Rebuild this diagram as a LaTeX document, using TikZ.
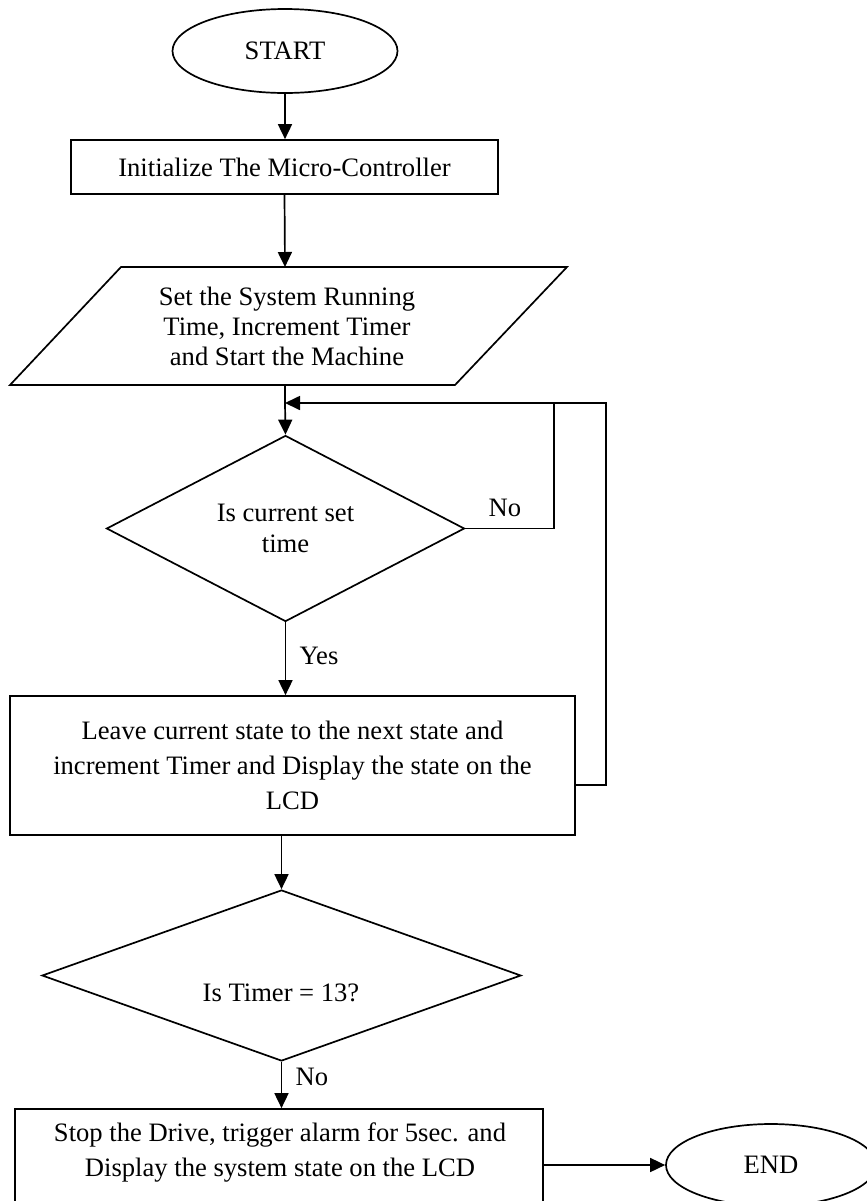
\documentclass[tikz,border=0pt]{standalone}
\usepackage{fontspec}
\setmainfont{Liberation Serif}
\usetikzlibrary{arrows.meta,shapes.geometric}
\begin{document}
\begin{tikzpicture}[x=0.5pt,y=-0.5pt,
  every node/.style={font=\fontsize{13.3}{17.5}\selectfont, inner sep=0pt},
  shapeline/.style={draw=black, line width=0.85pt},
  boxnode/.style={shapeline, rectangle, align=center},
  ovalnode/.style={shapeline, ellipse},
  decnode/.style={shapeline, diamond, align=center},
  txtnode/.style={align=center},
  arr/.style={line width=0.85pt, -{Triangle[length=7.5pt,width=7pt]}},
  ln/.style={line width=0.85pt}]
\useasboundingbox (0,0) rectangle (867,1201);

% START
\node[ovalnode, minimum width=112.5pt, minimum height=42pt] (start) at (285,51) {START};
% Initialize
\node[boxnode, minimum width=213.5pt, minimum height=27pt] (init) at (284.5,167) {Initialize The Micro-Controller};
% Input parallelogram
\coordinate (pTL) at (121,267);
\coordinate (pTR) at (567,267);
\coordinate (pBR) at (455,385);
\coordinate (pBL) at (10,385);
\draw[ln] (pTL) -- (pTR) -- (pBR) -- (pBL) -- cycle;
\node[txtnode, font=\fontsize{13.3}{15}\selectfont] (input) at (287,326) {Set the System Running\\Time, Increment Timer\\and Start the Machine};
\coordinate (inTop) at (285,267);
\coordinate (inBot) at (285,385);
\coordinate (join) at (285,403);
% Decision 1
\node[decnode, minimum width=179pt, minimum height=87.5pt, font=\fontsize{13.3}{15.5}\selectfont] (dec1) at (285.5,528.5) {Is current set\\time};
% Process
\node[boxnode, minimum width=282.5pt, minimum height=69.5pt] (proc) at (292.5,765.5) {Leave current state to the next state and\\increment Timer and Display the state on the\\LCD};
% Decision 2
\node[shapeline, diamond, minimum width=239.5pt, minimum height=85.5pt] (dec2) at (281.5,975.5) {};
\node[txtnode] (dec2t) at (281,993) {Is Timer = 13?};
% Stop
\node[boxnode, minimum width=264pt, minimum height=51.5pt] (stop) at (279,1160.5) {};
\node[txtnode] (stopt) at (280,1152) {Stop the Drive, trigger alarm for 5sec. and\\Display the system state on the LCD};
% END
\node[ovalnode, minimum width=105pt, minimum height=41pt] (end) at (771,1165) {END};

% connectors
\draw[arr] (start.south) -- (start.south |- init.north);
\draw[arr] (init.south) -- (inTop);
\draw[ln] (inBot) -- (join);
\draw[arr] (join) -- (dec1.north);
\coordinate (noTurn) at (554,528.5);
\coordinate (noTop) at (554,403);
\draw[arr] (dec1.east) -- (noTurn) -- (noTop) -- (join);
\coordinate (loopA) at (575,785);
\coordinate (loopB) at (606,785);
\coordinate (loopC) at (606,403);
\draw[ln] (loopA) -- (loopB) -- (loopC) -- (noTop);
\draw[arr] (dec1.south) -- (dec1.south |- proc.north);
\draw[arr] (dec2.north |- proc.south) -- (dec2.north);
\draw[arr] (dec2.south) -- (dec2.south |- stop.north);
\draw[arr] (stop.east |- end.west) -- (end.west);

% labels
\node (lno1) at (505,508) {No};
\node (lyes) at (319,656) {Yes};
\node (lno2) at (312,1077) {No};
\end{tikzpicture}
\end{document}
